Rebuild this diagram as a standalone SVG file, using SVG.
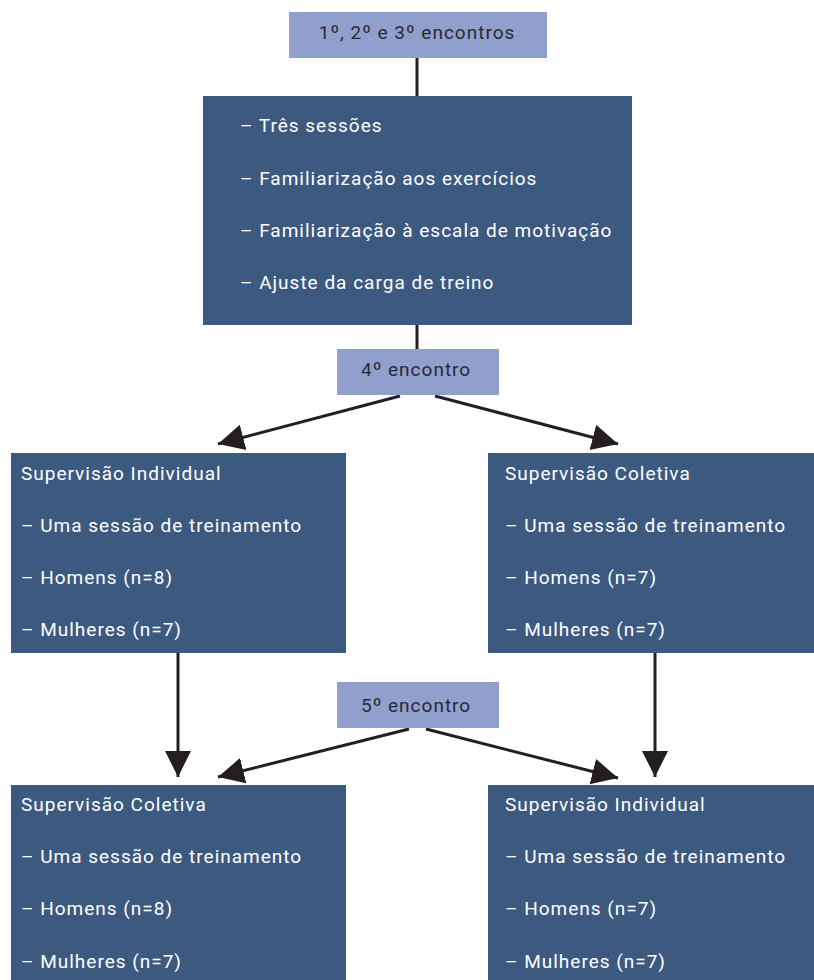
<svg xmlns="http://www.w3.org/2000/svg" width="814" height="980" viewBox="0 0 814 980">
<style>
.lt{fill:#909fcb}
.dk{fill:#3c5a80}
.tl{font-family:Roboto,"Liberation Sans",sans-serif;font-size:19px;letter-spacing:1px;fill:#2a2a35}
.tw{font-family:Roboto,"Liberation Sans",sans-serif;font-size:19px;letter-spacing:1px;fill:#ffffff}
.ln{stroke:#231f20;stroke-width:3;fill:none}
</style>
<defs>
<marker id="ah" markerUnits="userSpaceOnUse" markerWidth="28" markerHeight="28" viewBox="0 0 28 28" refX="26" refY="14" orient="auto">
<path d="M0,1 L26,14 L0,27 Z" fill="#231f20"/>
</marker>
</defs>
<rect width="814" height="980" fill="#ffffff"/>
<g id="connectors">
<line class="ln" x1="417" y1="58" x2="417" y2="96"/>
<line class="ln" x1="417" y1="325" x2="417" y2="349"/>
<line class="ln" x1="400" y1="396" x2="218" y2="444" marker-end="url(#ah)"/>
<line class="ln" x1="435" y1="396" x2="618" y2="444" marker-end="url(#ah)"/>
<line class="ln" x1="178" y1="653" x2="178" y2="777" marker-end="url(#ah)"/>
<line class="ln" x1="655" y1="653" x2="655" y2="777" marker-end="url(#ah)"/>
<line class="ln" x1="409" y1="729" x2="218" y2="777" marker-end="url(#ah)"/>
<line class="ln" x1="426" y1="729" x2="618" y2="778" marker-end="url(#ah)"/>
</g>
<g id="n1">
<rect class="lt" x="289" y="12" width="258" height="46"/>
<text class="tl" x="417" y="39" text-anchor="middle">1º, 2º e 3º encontros</text>
</g>
<g id="n2">
<rect class="dk" x="203" y="96" width="429" height="229"/>
<text class="tw" x="240" y="132">– Três sessões</text>
<text class="tw" x="240" y="185">– Familiarização aos exercícios</text>
<text class="tw" x="240" y="237">– Familiarização à escala de motivação</text>
<text class="tw" x="240" y="289">– Ajuste da carga de treino</text>
</g>
<g id="n3">
<rect class="lt" x="337" y="349" width="162" height="46"/>
<text class="tl" x="361" y="376">4º encontro</text>
</g>
<g id="n4">
<rect class="dk" x="11" y="453" width="335" height="200"/>
<text class="tw" x="21" y="480">Supervisão Individual</text>
<text class="tw" x="21" y="532">– Uma sessão de treinamento</text>
<text class="tw" x="21" y="584">– Homens (n=8)</text>
<text class="tw" x="21" y="636">– Mulheres (n=7)</text>
</g>
<g id="n5">
<rect class="dk" x="488" y="453" width="326" height="200"/>
<text class="tw" x="505" y="480">Supervisão Coletiva</text>
<text class="tw" x="505" y="532">– Uma sessão de treinamento</text>
<text class="tw" x="505" y="584">– Homens (n=7)</text>
<text class="tw" x="505" y="636">– Mulheres (n=7)</text>
</g>
<g id="n6">
<rect class="lt" x="337" y="682" width="162" height="46"/>
<text class="tl" x="361" y="712">5º encontro</text>
</g>
<g id="n7">
<rect class="dk" x="11" y="785" width="335" height="195"/>
<text class="tw" x="21" y="811">Supervisão Coletiva</text>
<text class="tw" x="21" y="863">– Uma sessão de treinamento</text>
<text class="tw" x="21" y="915">– Homens (n=8)</text>
<text class="tw" x="21" y="968">– Mulheres (n=7)</text>
</g>
<g id="n8">
<rect class="dk" x="488" y="785" width="326" height="195"/>
<text class="tw" x="505" y="811">Supervisão Individual</text>
<text class="tw" x="505" y="863">– Uma sessão de treinamento</text>
<text class="tw" x="505" y="915">– Homens (n=7)</text>
<text class="tw" x="505" y="968">– Mulheres (n=7)</text>
</g>
</svg>
